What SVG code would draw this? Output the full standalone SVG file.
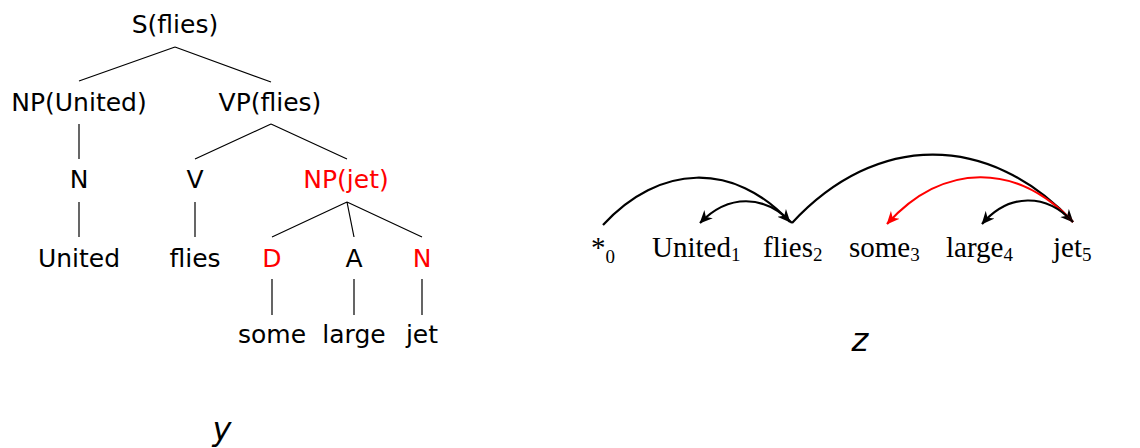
<svg xmlns="http://www.w3.org/2000/svg" width="1140" height="448" viewBox="0 0 1140 448">
<style>
.t{font-family:"DejaVu Sans",sans-serif;font-size:25px;text-anchor:middle;fill:#000}
.r{fill:#ff0000}
.tl{stroke:#000;stroke-width:1.2;fill:none}
.w{font-family:"Liberation Serif",serif;font-size:29px;fill:#000}
.sub{font-size:19px}
.arc{fill:none;stroke:#000;stroke-width:2.2}
.red{stroke:#ff0000}
.lab{font-family:"DejaVu Sans",sans-serif;font-style:italic;font-size:32px;text-anchor:middle}
</style>
<defs>
<marker id="ah" viewBox="0 0 10 10" refX="9.5" refY="5" markerWidth="13" markerHeight="13" markerUnits="userSpaceOnUse" orient="auto">
<path d="M0,0.5 L10,5 L0,9.5 L3,5 z" fill="#000"/>
</marker>
<marker id="ahr" viewBox="0 0 10 10" refX="9.5" refY="5" markerWidth="13" markerHeight="13" markerUnits="userSpaceOnUse" orient="auto">
<path d="M0,0.5 L10,5 L0,9.5 L3,5 z" fill="#ff0000"/>
</marker>
</defs>

<g id="tree-edges">
<path class="tl" d="M175,47 L79,81 M175,47 L271,82"/>
<path class="tl" d="M79,124 L79,159"/>
<path class="tl" d="M271,124 L195,159 M271,124 L347,159"/>
<path class="tl" d="M79,202 L79,237"/>
<path class="tl" d="M195,202 L195,237"/>
<path class="tl" d="M347,202 L272,237 M347,202 L354,237 M347,202 L422,237"/>
<path class="tl" d="M272,279 L272,315 M354,279 L354,315 M422,279 L422,315"/>
</g>

<g id="n-S"><text class="t" x="175" y="33">S(flies)</text></g>
<g id="n-NPUnited"><text class="t" x="79" y="111">NP(United)</text></g>
<g id="n-VP"><text class="t" x="270" y="111">VP(flies)</text></g>
<g id="n-N1"><text class="t" x="79" y="188">N</text></g>
<g id="n-V"><text class="t" x="195" y="188">V</text></g>
<g id="n-NPjet"><text class="t r" x="346" y="188">NP(jet)</text></g>
<g id="n-United"><text class="t" x="79" y="267">United</text></g>
<g id="n-flies"><text class="t" x="195" y="267">flies</text></g>
<g id="n-D"><text class="t r" x="272" y="267">D</text></g>
<g id="n-A"><text class="t" x="354" y="267">A</text></g>
<g id="n-N2"><text class="t r" x="422" y="267">N</text></g>
<g id="n-some"><text class="t" x="272" y="343">some</text></g>
<g id="n-large"><text class="t" x="354" y="343">large</text></g>
<g id="n-jet"><text class="t" x="422" y="343">jet</text></g>
<g id="lab-y"><text class="lab" x="222" y="440">y</text></g>

<g id="w0"><text class="w" x="591" y="257">*<tspan class="sub" dy="6">0</tspan></text></g>
<g id="w1"><text class="w" x="652" y="257">United<tspan class="sub" dy="4">1</tspan></text></g>
<g id="w2"><text class="w" x="763" y="257">flies<tspan class="sub" dy="4">2</tspan></text></g>
<g id="w3"><text class="w" x="849" y="257">some<tspan class="sub" dy="4">3</tspan></text></g>
<g id="w4"><text class="w" x="946" y="257">large<tspan class="sub" dy="4">4</tspan></text></g>
<g id="w5"><text class="w" x="1053" y="257">jet<tspan class="sub" dy="4">5</tspan></text></g>
<g id="lab-z"><text class="lab" x="860" y="351">z</text></g>

<g id="arcs">
<path class="arc" marker-end="url(#ah)" d="M603,225 C659,164 734,161 790,222"/>
<path class="arc" marker-end="url(#ah)" d="M792,223 C764,194 728,194 700,223"/>
<path class="arc" marker-end="url(#ah)" d="M792,223 C876,132 989,132 1073,222"/>
<path class="arc red" marker-end="url(#ahr)" d="M1073,222 C1017,162 943,162 887,224"/>
<path class="arc" marker-end="url(#ah)" d="M1073,222 C1046,193 1009,193 982,224"/>
</g>
</svg>
